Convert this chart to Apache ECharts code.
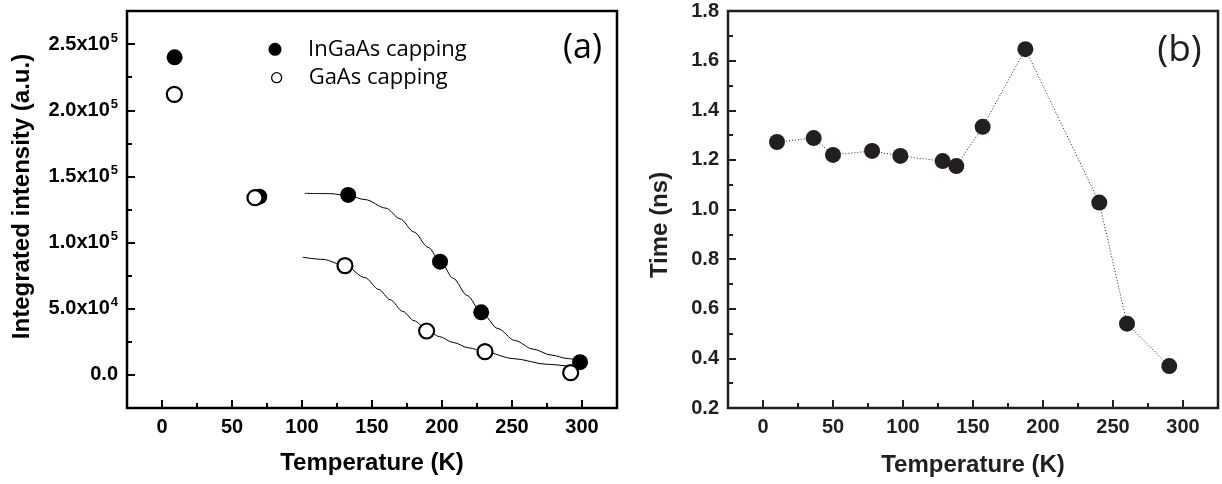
<!DOCTYPE html>
<html>
<head>
<meta charset="utf-8">
<script src="https://cdn.jsdelivr.net/npm/echarts@6/dist/echarts.min.js"></script>
<style>
  html, body { margin: 0; padding: 0; background: #fff; }
  #chart { width: 1222px; height: 484px; }
</style>
</head>
<body>
<div id="chart"></div>
<script>
// Panel (a): integrated PL intensity vs temperature
const tempInGaAs = [9, 69.5, 133, 198.6, 228, 298.6];
const intInGaAs = [240000, 134700, 136000, 85600, 47300, 9600];
const tempGaAs = [8.8, 66.4, 130.7, 189, 230.7, 291.9];
const intGaAs = [212000, 133900, 82600, 33200, 17600, 1700];

// Fitted curves, sampled along the drawn fit lines
const fitTempInGaAs = [102, 120, 133, 145, 160, 170, 180, 190, 199, 208, 218, 228, 240, 252, 265, 278, 290, 298];
const fitIntInGaAs = [137200, 137000, 135500, 132500, 126000, 118000, 108000, 96500, 85500, 73000, 60000, 47500, 35000, 26000, 19500, 15000, 12300, 11200];
const fitTempGaAs = [100.5, 115, 130.7, 145, 155, 163, 172, 180, 189, 198, 208, 219, 230.6, 251, 275, 292.6];
const fitIntGaAs = [88900, 87300, 82600, 73500, 64500, 56800, 48000, 41000, 34500, 29000, 24500, 20500, 17400, 12300, 8000, 6300];

// Panel (b): decay time vs temperature
const tempDecay = [10, 36.2, 50, 77.9, 98.1, 128.3, 138.1, 156.9, 187.4, 240.2, 260, 290.2];
const timeDecay = [1.272, 1.288, 1.220, 1.236, 1.216, 1.195, 1.175, 1.333, 1.646, 1.028, 0.540, 0.369];

// Tick positions
const xMajorTicks = [0, 50, 100, 150, 200, 250, 300];
const xMinorTicks = [25, 75, 125, 175, 225, 275];
const yMajorTicksA = [0, 50000, 100000, 150000, 200000, 250000];
const yMinorTicksA = [25000, 75000, 125000, 175000, 225000];
const yMajorTicksB = [0.2, 0.4, 0.6, 0.8, 1.0, 1.2, 1.4, 1.6, 1.8];
const yMinorTicksB = [0.3, 0.5, 0.7, 0.9, 1.1, 1.3, 1.5, 1.7];

const zip = (xs, ys) => xs.map((x, i) => [x, ys[i]]);

const AX_FONT = 'Liberation Sans';
const INK_A = '#000';
const INK_B = '#231f20';
const TICK_FONT = 20;

function sciLabel(v) {
  if (v === 0) return '{m|0.0}';
  const e = Math.floor(Math.log10(v));
  const m = (v / Math.pow(10, e)).toFixed(1);
  return '{m|' + m + 'x10}{s|' + e + '}';
}

function xAxisPair(gridIndex, ink) {
  const base = {
    gridIndex, type: 'value', min: -25, max: 325, position: 'bottom',
    axisLine: { show: false, onZero: false }, splitLine: { show: false }
  };
  return [
    Object.assign({}, base, {
      axisTick: { show: true, inside: true, length: 8, customValues: xMajorTicks, lineStyle: { color: ink, width: 2 } },
      axisLabel: { show: true, customValues: xMajorTicks, margin: 9, fontFamily: AX_FONT, fontSize: TICK_FONT, fontWeight: 'bold', color: ink }
    }),
    Object.assign({}, base, {
      axisTick: { show: true, inside: true, length: 5, customValues: xMinorTicks, lineStyle: { color: ink, width: 2 } },
      axisLabel: { show: false }
    })
  ];
}

function yAxisPair(gridIndex, ink, min, max, major, minor, labelCfg) {
  const base = {
    gridIndex, type: 'value', min, max, position: 'left',
    axisLine: { show: false, onZero: false }, splitLine: { show: false }
  };
  return [
    Object.assign({}, base, {
      axisTick: { show: true, inside: true, length: 8, customValues: major, lineStyle: { color: ink, width: 2 } },
      axisLabel: Object.assign({ show: true, customValues: major, margin: 9, fontFamily: AX_FONT, fontSize: TICK_FONT, fontWeight: 'bold', color: ink }, labelCfg)
    }),
    Object.assign({}, base, {
      axisTick: { show: true, inside: true, length: 5, customValues: minor, lineStyle: { color: ink, width: 2 } },
      axisLabel: { show: false }
    })
  ];
}

const chart = echarts.init(document.getElementById('chart'), null, { renderer: 'canvas' });

const option = {
  animation: false,
  backgroundColor: '#fff',
  textStyle: { fontFamily: AX_FONT },
  grid: [
    { left: 127, top: 11, width: 490, height: 397, show: true, borderColor: INK_A, borderWidth: 2.5, backgroundColor: 'transparent', outerBoundsMode: 'none' },
    { left: 728, top: 11, width: 490, height: 397, show: true, borderColor: INK_B, borderWidth: 2.5, backgroundColor: 'transparent', outerBoundsMode: 'none' }
  ],
  xAxis: [].concat(xAxisPair(0, INK_A), xAxisPair(1, INK_B)),
  yAxis: [].concat(
    yAxisPair(0, INK_A, -25000, 275000, yMajorTicksA, yMinorTicksA, {
      formatter: sciLabel,
      rich: {
        m: { fontFamily: AX_FONT, fontSize: TICK_FONT, fontWeight: 'bold', color: INK_A, lineHeight: 25 },
        s: { fontFamily: AX_FONT, fontSize: 13, fontWeight: 'bold', color: INK_A, verticalAlign: 'top', padding: [0, 0, 0, 1] }
      }
    }),
    yAxisPair(1, INK_B, 0.2, 1.8, yMajorTicksB, yMinorTicksB, {
      formatter: v => v.toFixed(1)
    })
  ),
  legend: [
    {
      orient: 'vertical', left: 268.5, top: 38.3, padding: 0,
      itemWidth: 13, itemHeight: 13, icon: 'circle', selectedMode: false,
      data: [{ name: 'InGaAs capping', itemStyle: { color: '#000', borderWidth: 0, opacity: 1 } }],
      textStyle: { fontFamily: 'Open Sans', fontSize: 22, lineHeight: 22, color: '#000', padding: [0, 0, 0, 21.5] }
    },
    {
      orient: 'vertical', left: 271, top: 66.7, padding: 0,
      itemWidth: 10, itemHeight: 10, icon: 'circle', selectedMode: false,
      data: [{ name: 'GaAs capping', itemStyle: { color: '#fff', borderColor: '#000', borderWidth: 1.3, opacity: 1 } }],
      textStyle: { fontFamily: 'Open Sans', fontSize: 22, lineHeight: 22, color: '#000', padding: [0, 0, 0, 22] }
    }
  ],
  series: [
    {
      name: 'InGaAs fit', type: 'line', xAxisIndex: 0, yAxisIndex: 0,
      data: zip(fitTempInGaAs, fitIntInGaAs), smooth: 0.3, smoothMonotone: 'x',
      showSymbol: false, lineStyle: { color: '#000', width: 1 }, z: 1, silent: true
    },
    {
      name: 'GaAs fit', type: 'line', xAxisIndex: 0, yAxisIndex: 0,
      data: zip(fitTempGaAs, fitIntGaAs), smooth: 0.3, smoothMonotone: 'x',
      showSymbol: false, lineStyle: { color: '#000', width: 1 }, z: 1, silent: true
    },
    {
      name: 'InGaAs capping', type: 'scatter', xAxisIndex: 0, yAxisIndex: 0,
      data: zip(tempInGaAs, intInGaAs), symbol: 'circle', symbolSize: 16,
      itemStyle: { color: '#000', opacity: 1 }, z: 3
    },
    {
      name: 'GaAs capping', type: 'scatter', xAxisIndex: 0, yAxisIndex: 0,
      data: zip(tempGaAs, intGaAs), symbol: 'circle', symbolSize: 15,
      itemStyle: { color: '#fff', borderColor: '#000', borderWidth: 2.2, opacity: 1 }, z: 4
    },
    {
      name: 'Decay time', type: 'line', xAxisIndex: 2, yAxisIndex: 2,
      data: zip(tempDecay, timeDecay), symbol: 'circle', symbolSize: 16, showAllSymbol: true,
      itemStyle: { color: INK_B, opacity: 1 },
      lineStyle: { color: INK_B, width: 1, type: [1, 2] }, z: 3
    }
  ],
  graphic: [
    { type: 'text', x: 22.5, y: 196.5, rotation: Math.PI / 2,
      style: { text: 'Integrated intensity (a.u.)', fontFamily: AX_FONT, fontSize: 24, fontWeight: 'bold', fill: INK_A, align: 'center', verticalAlign: 'middle' } },
    { type: 'text', x: 372, y: 463.3,
      style: { text: 'Temperature (K)', fontFamily: AX_FONT, fontSize: 24, fontWeight: 'bold', fill: INK_A, align: 'center', verticalAlign: 'middle' } },
    { type: 'text', x: 660, y: 225, rotation: Math.PI / 2,
      style: { text: 'Time (ns)', fontFamily: AX_FONT, fontSize: 24, fontWeight: 'bold', fill: INK_B, align: 'center', verticalAlign: 'middle' } },
    { type: 'text', x: 973, y: 465,
      style: { text: 'Temperature (K)', fontFamily: AX_FONT, fontSize: 24, fontWeight: 'bold', fill: INK_B, align: 'center', verticalAlign: 'middle' } },
    { type: 'text', x: 582.5, y: 48.5,
      style: { text: '(a)', fontFamily: 'Open Sans', fontSize: 34, fill: INK_A, align: 'center', verticalAlign: 'middle' } },
    { type: 'text', x: 1179.5, y: 50,
      style: { text: '(b)', fontFamily: 'Open Sans', fontSize: 37, fill: INK_B, align: 'center', verticalAlign: 'middle' } }
  ]
};

chart.setOption(option);
</script>
</body>
</html>
